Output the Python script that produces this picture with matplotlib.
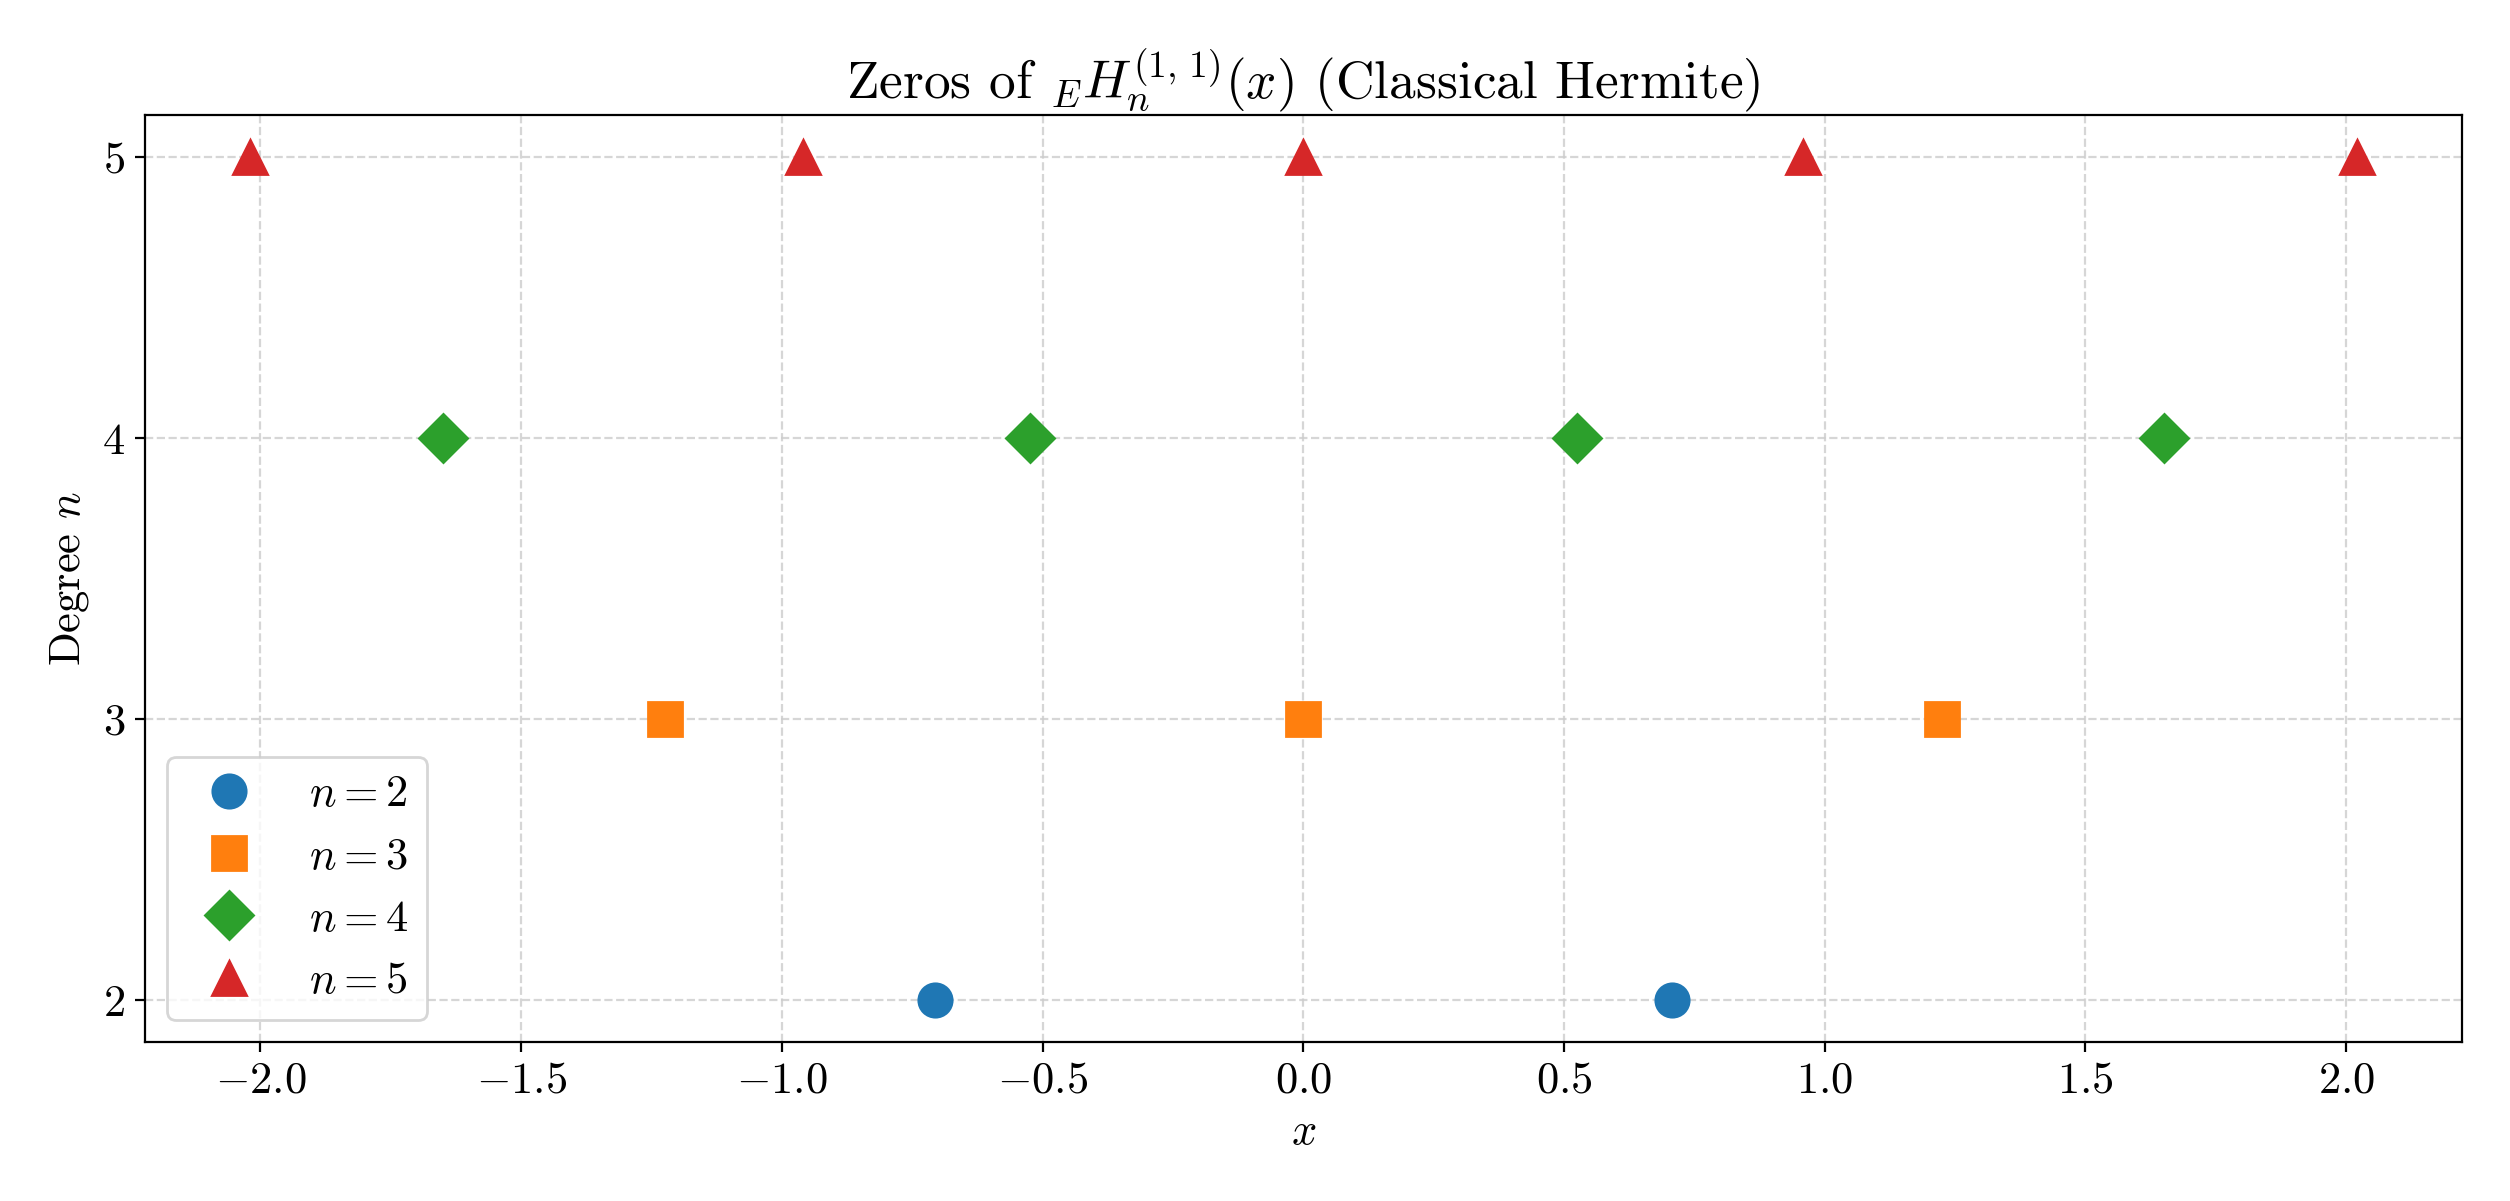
import matplotlib
matplotlib.use("Agg")
import matplotlib.pyplot as plt

plt.rcParams['font.family'] = 'serif'
plt.rcParams['font.serif'] = ['cmr10']
plt.rcParams['mathtext.fontset'] = 'cm'
plt.rcParams['axes.formatter.use_mathtext'] = True
plt.rcParams['font.size'] = 16

degrees = [2, 3, 4, 5]
zeros_n2 = [-0.7071, 0.7071]
zeros_n3 = [-1.2247, 0.0, 1.2247]
zeros_n4 = [-1.6507, -0.5246, 0.5246, 1.6507]
zeros_n5 = [-2.0202, -0.9586, 0.0, 0.9586, 2.0202]
all_zeros = [zeros_n2, zeros_n3, zeros_n4, zeros_n5]
markers = ['o', 's', 'D', '^']
colors = ['#1f77b4', '#ff7f0e', '#2ca02c', '#d62728']

fig, ax = plt.subplots(figsize=(12.55, 6.005), dpi=200)
for n, z, m, c in zip(degrees, all_zeros, markers, colors):
    ax.plot(z, [n] * len(z), linestyle='none', marker=m, color=c,
            markersize=12, label=f'$n = {n}$')

ax.set_yticks(degrees)
ax.set_xlabel('$x$')
ax.set_ylabel('Degree $n$')
ax.set_title(r'Zeros of $_{E}H_n^{(1,\,1)}(x)$ (Classical Hermite)')
ax.grid(True, linestyle='--', color='#cccccc', alpha=0.8)
ax.legend(loc='lower left', fontsize=16, labelspacing=0.5)
fig.tight_layout()
fig.savefig('out.png', dpi=200)
